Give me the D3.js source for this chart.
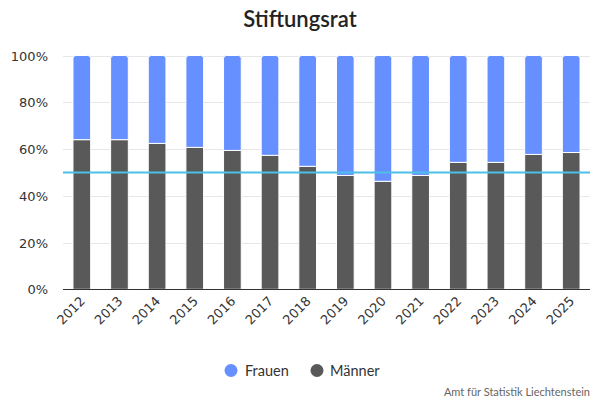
<!DOCTYPE html>
<html><head><meta charset="utf-8">
<script src="https://cdn.jsdelivr.net/npm/d3@7"></script>
<style>body{margin:0;background:#fff}svg{display:block}</style>
</head><body>
<svg id="c" width="600" height="400"></svg>
<script>
const years = ["2012","2013","2014","2015","2016","2017","2018","2019","2020","2021","2022","2023","2024","2025"];
const maenner = [64.0,64.0,62.4,60.7,59.4,57.3,52.6,48.7,46.2,48.7,54.3,54.3,57.7,58.5];
const frauen = maenner.map(v => 100 - v);
const yTicks = [0,20,40,60,80,100];
const refLine = 50;
const seriesNames = ["Frauen","Männer"];
const colors = {"Frauen":"#6690ff","Männer":"#595959"};

const svg = d3.select("#c");
const font = "Lato, 'Open Sans', sans-serif";
const x = d3.scaleBand().domain(years).range([63,590]).paddingInner(0.53).paddingOuter(0.265);
const y = d3.scaleLinear().domain([0,100]).range([289.3,55.5]);

// grid
svg.append("g").selectAll("line").data(yTicks.filter(d=>d>0)).join("line")
  .attr("x1",63).attr("x2",590).attr("y1",d=>Math.round(y(d))+0.5).attr("y2",d=>Math.round(y(d))+0.5)
  .attr("stroke","#e6e6e6");

// y labels
svg.append("g").selectAll("text").data(yTicks).join("text")
  .attr("x",48).attr("y",d=>y(d)+5).attr("text-anchor","end")
  .attr("font-family","'DejaVu Sans', sans-serif").attr("font-size",13).attr("fill","#333")
  .text(d=>d+"%");

function roundTop(x0,y0,w,h,r){
  r = Math.min(r,h);
  return `M${x0},${y0+h}V${y0+r}Q${x0},${y0} ${x0+r},${y0}H${x0+w-r}Q${x0+w},${y0} ${x0+w},${y0+r}V${y0+h}Z`;
}
const bars = svg.append("g");
years.forEach((yr,i)=>{
  const m = maenner[i], f = frauen[i];
  bars.append("rect").attr("x",x(yr)).attr("width",x.bandwidth())
    .attr("y",y(m)).attr("height",y(0)-y(m)).attr("fill",colors["Männer"])
    .attr("stroke","#fff").attr("stroke-width",1);
  bars.append("path").attr("d",roundTop(x(yr),y(100),x.bandwidth(),y(m)-y(100),3))
    .attr("fill",colors["Frauen"]).attr("stroke","#fff").attr("stroke-width",1);
});

// axis line
svg.append("line").attr("x1",63).attr("x2",590).attr("y1",289.5).attr("y2",289.5).attr("stroke","#333");

// ref line
svg.append("line").attr("x1",63).attr("x2",590).attr("y1",y(refLine)).attr("y2",y(refLine))
  .attr("stroke","#4cc0e8").attr("stroke-width",2);

// x labels
svg.append("g").selectAll("text").data(years).join("text")
  .attr("transform",d=>`translate(${x(d)+x.bandwidth()/2+4},${302}) rotate(-45)`)
  .attr("text-anchor","end").attr("font-family","'DejaVu Sans', sans-serif").attr("font-size",13).attr("fill","#333")
  .text(d=>d);

// title
svg.append("text").attr("x",300).attr("y",27).attr("text-anchor","middle")
  .attr("font-family",font).attr("font-size",22).attr("font-weight",600).attr("fill","#222").text("Stiftungsrat");

// legend
const lg = [{n:"Frauen",cx:231,tx:245},{n:"Männer",cx:317,tx:330}];
lg.forEach(l=>{
  svg.append("circle").attr("cx",l.cx).attr("cy",370.5).attr("r",6.5).attr("fill",colors[l.n]);
  svg.append("text").attr("x",l.tx).attr("y",375.5).attr("font-family",font).attr("font-size",14.5).attr("fill","#333").text(l.n);
});

// credits
svg.append("text").attr("x",590).attr("y",396).attr("text-anchor","end").attr("font-family",font)
  .attr("font-size",11).attr("fill","#666").text("Amt für Statistik Liechtenstein");
</script>
</body></html>
